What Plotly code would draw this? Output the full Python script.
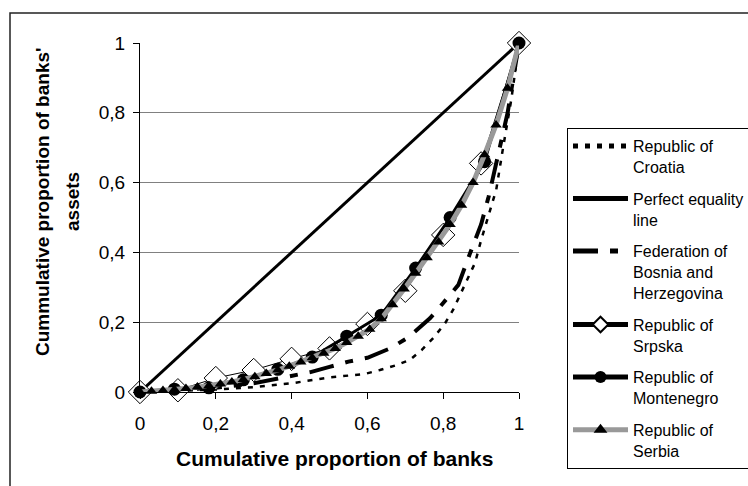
import plotly.graph_objects as go

# ---- data ----
tick_vals = [0, 0.2, 0.4, 0.6, 0.8, 1]
tick_text = ["0", "0,2", "0,4", "0,6", "0,8", "1"]

croatia_x = [0, 0.1, 0.2, 0.3, 0.4, 0.5, 0.59, 0.633, 0.677, 0.712, 0.743, 0.774, 0.805, 0.826, 0.849, 0.884, 0.90, 0.94, 0.958, 0.98, 1]
croatia_y = [0, 0.003, 0.007, 0.014, 0.025, 0.042, 0.051, 0.063, 0.077, 0.092, 0.12, 0.155, 0.197, 0.235, 0.29, 0.37, 0.435, 0.58, 0.70, 0.84, 1]

equality_x = [0, 1]
equality_y = [0, 1]

fbih_x = [0, 0.1, 0.2, 0.3, 0.4, 0.45, 0.5, 0.55, 0.6, 0.66, 0.71, 0.765, 0.8, 0.84, 0.87, 0.9, 0.92, 0.94, 0.97, 1]
fbih_y = [0, 0.005, 0.012, 0.025, 0.047, 0.057, 0.072, 0.087, 0.098, 0.125, 0.158, 0.211, 0.255, 0.307, 0.395, 0.48, 0.56, 0.66, 0.8, 1]

srpska_x = [0, 0.1, 0.2, 0.3, 0.4, 0.5, 0.6, 0.7, 0.8, 0.9, 1]
srpska_y = [0, 0.005, 0.04, 0.063, 0.095, 0.125, 0.195, 0.29, 0.45, 0.655, 1]

montenegro_x = [0, 0.0909, 0.1818, 0.2727, 0.3636, 0.4545, 0.5455, 0.6364, 0.7273, 0.8182, 0.9091, 1]
montenegro_y = [0, 0.008, 0.012, 0.035, 0.065, 0.10, 0.16, 0.22, 0.355, 0.50, 0.66, 1]

serbia_x = [0, 0.0303, 0.0606, 0.0909, 0.1212, 0.1515, 0.1818, 0.2121, 0.2424, 0.2727, 0.3030,
            0.3333, 0.3636, 0.3939, 0.4242, 0.4545, 0.4848, 0.5152, 0.5455, 0.5758, 0.6061,
            0.6364, 0.6667, 0.6970, 0.7273, 0.7576, 0.7879, 0.8182, 0.8485, 0.8788, 0.9091,
            0.9394, 0.9697, 1]
serbia_y = [0, 0.002, 0.004, 0.007, 0.010, 0.014, 0.018, 0.023, 0.029, 0.036, 0.044,
            0.053, 0.063, 0.074, 0.086, 0.098, 0.111, 0.125, 0.142, 0.160, 0.180,
            0.21, 0.25, 0.295, 0.34, 0.385, 0.43, 0.48, 0.535, 0.60, 0.68,
            0.765, 0.87, 1]

x_title = "Cumulative proportion of banks"
y_title_lines = ["Cummulative proportion of banks'", "assets"]

FONT = "Liberation Sans, Arial, sans-serif"

fig = go.Figure()
fig.add_trace(go.Scatter(x=croatia_x, y=croatia_y, mode="lines", name="Republic of<br>Croatia",
                         legendgroup="a", line=dict(color="black", width=2.5, dash="5px,7px"),
                         cliponaxis=False))
fig.add_trace(go.Scatter(x=equality_x, y=equality_y, mode="lines", name="Perfect equality<br>line",
                         legendgroup="b", line=dict(color="black", width=3), cliponaxis=False))
fig.add_trace(go.Scatter(x=fbih_x, y=fbih_y, mode="lines", name="Federation of<br>Bosnia and<br>Herzegovina",
                         legendgroup="c", line=dict(color="black", width=4, dash="25px,12px,8px,12px"),
                         cliponaxis=False))
fig.add_trace(go.Scatter(x=srpska_x, y=srpska_y, mode="lines+markers", name="Republic of<br>Srpska",
                         legendgroup="d", line=dict(color="black", width=1),
                         marker=dict(symbol="diamond", size=18, color="white",
                                     line=dict(color="black", width=1)),
                         cliponaxis=False))
fig.add_trace(go.Scatter(x=montenegro_x, y=montenegro_y, mode="lines+markers", name="Republic of<br>Montenegro",
                         legendgroup="e", line=dict(color="black", width=3),
                         marker=dict(symbol="circle", size=13, color="black"),
                         cliponaxis=False))
fig.add_trace(go.Scatter(x=serbia_x, y=serbia_y, mode="lines+markers", name="Republic of<br>Serbia",
                         legendgroup="f", line=dict(color="#999999", width=5),
                         marker=dict(symbol="triangle-up", size=10, color="black"),
                         cliponaxis=False))

# plot area: x 140..519, y 43..392
L, R, T, B = 140, 519, 43, 392
W, H = 748, 486
pw, ph = R - L, B - T

def px(xp):
    return (xp - L) / pw

def py(yp):
    return (B - yp) / ph

fig.update_layout(
    width=W, height=H,
    margin=dict(l=L, r=W - R, t=T, b=H - B, autoexpand=False),
    paper_bgcolor="white", plot_bgcolor="white",
    font=dict(family=FONT, color="black"),
    showlegend=True,
    legend=dict(
        xref="container", yref="container",
        x=567 / W, y=1 - 128 / H, xanchor="left", yanchor="top",
        bordercolor="black", borderwidth=1, bgcolor="white",
        font=dict(size=16, family=FONT), tracegroupgap=8,
        itemwidth=55, valign="top", traceorder="grouped", itemsizing="constant",
        maxheight=800,
    ),
    xaxis=dict(range=[0, 1], tickvals=tick_vals, ticktext=tick_text,
               showgrid=False, zeroline=False, showline=True, linecolor="black", linewidth=1,
               ticks="outside", ticklen=6, tickcolor="black",
               tickfont=dict(size=19, family=FONT), ticklabelstandoff=8, automargin=False),
    yaxis=dict(range=[0, 1], tickvals=tick_vals, ticktext=tick_text,
               showgrid=True, gridcolor="#808080", gridwidth=1, zeroline=False,
               showline=True, linecolor="black", linewidth=1,
               ticks="outside", ticklen=6, tickcolor="black",
               tickfont=dict(size=19, family=FONT), ticklabelstandoff=4, automargin=False),
    shapes=[dict(type="rect", xref="paper", yref="paper",
                 x0=px(10), x1=px(760), y0=py(500), y1=py(13),
                 line=dict(color="#222222", width=1.5), layer="below")],
    annotations=[
        dict(text="<b>" + x_title + "</b>", xref="paper", yref="paper",
             x=px(334), y=py(458), xanchor="center", yanchor="middle", showarrow=False,
             font=dict(size=21, family=FONT)),
        dict(text="<b>" + y_title_lines[0] + "</b>", xref="paper", yref="paper",
             x=px(42), y=py(202), xanchor="center", yanchor="middle", showarrow=False,
             textangle=-90, font=dict(size=19, family=FONT)),
        dict(text="<b>" + y_title_lines[1] + "</b>", xref="paper", yref="paper",
             x=px(72), y=py(202), xanchor="center", yanchor="middle", showarrow=False,
             textangle=-90, font=dict(size=19, family=FONT)),
    ],
)

fig.write_html("out.html", config={"displayModeBar": False},
               post_script="document.body.style.margin='0px';document.body.style.overflow='hidden';")
